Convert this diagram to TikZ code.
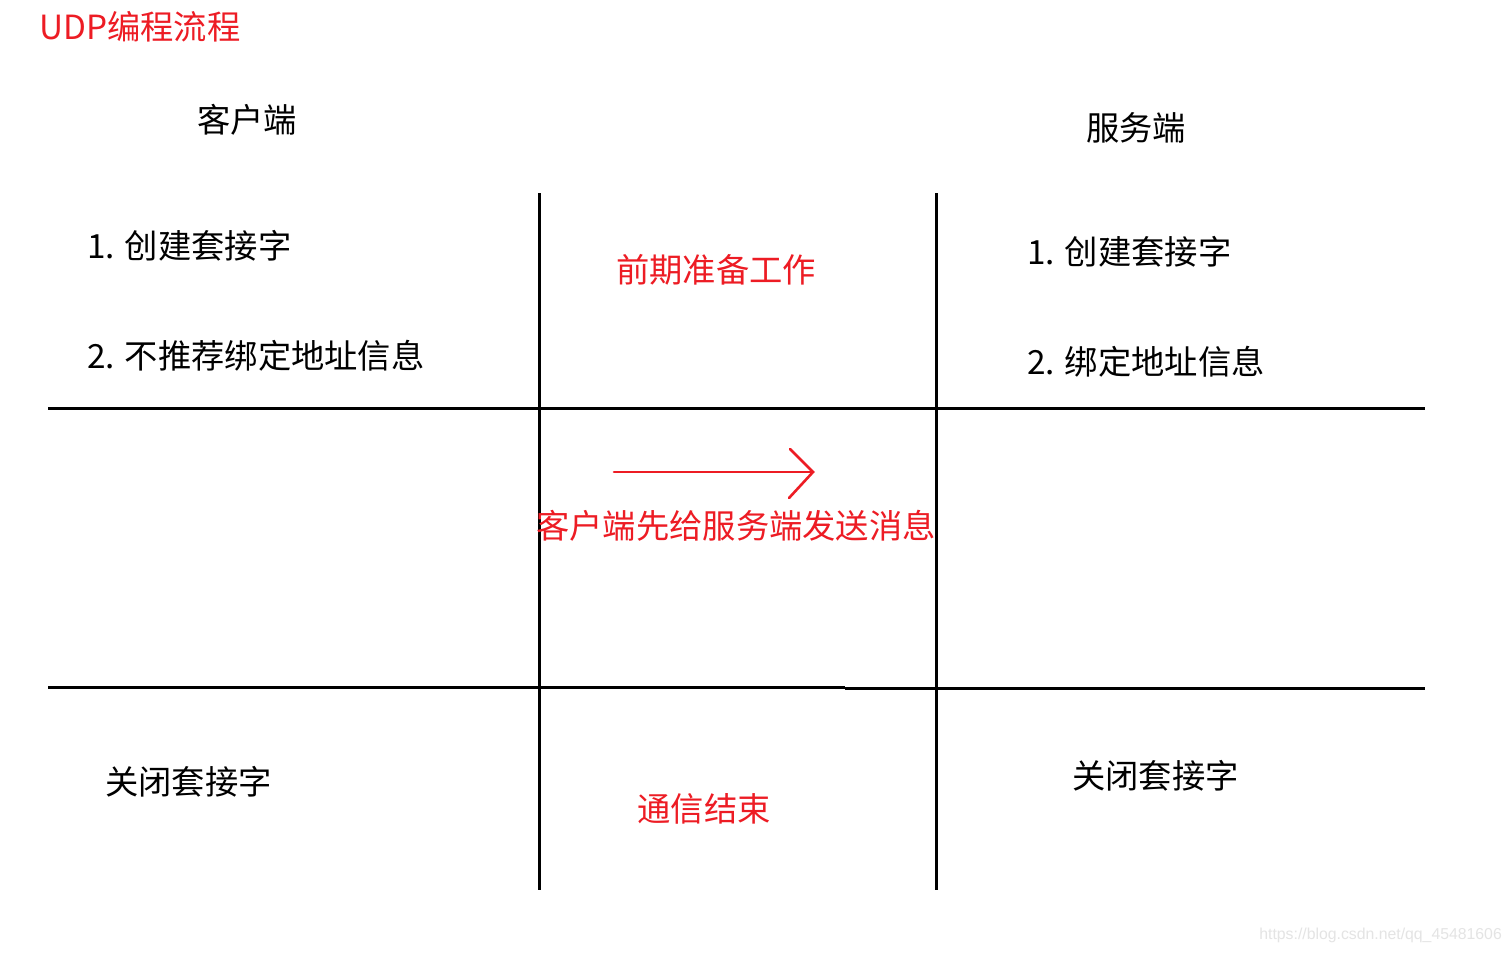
\documentclass[tikz,border=0pt]{standalone}
\usepackage{fontspec}
\setmainfont{Noto Sans CJK SC}
\newfontfamily\wmfont{Liberation Sans}
\definecolor{pred}{RGB}{237,28,36}
\definecolor{wm}{RGB}{228,228,228}
\tikzset{
  txt/.style={inner sep=0pt, font=\fontsize{33.3}{37}\selectfont},
  rtxt/.style={txt, text=pred},
  grid/.style={line width=3pt, black},
  redline/.style={line width=2.6pt, pred, line cap=round}
}
\begin{document}
\begin{tikzpicture}[x=1pt,y=-1pt]
\useasboundingbox[fill=white] (0,0) rectangle (1511,953);
% title
\node[rtxt, anchor=west] (title) at (39,27) {UDP编程流程};
% headers
\node[txt] (client) at (247,120) {客户端};
\node[txt] (server) at (1136,128) {服务端};
% grid lines
\draw[grid] (539,193) -- (539,890);
\draw[grid] (936,193) -- (936,890);
\draw[grid] (48,408) -- (1425,408);
\draw[grid] (48,687) -- (845,687);
\draw[grid] (845,688) -- (1425,688);
% row 1
\node[txt, anchor=west] (c1) at (87,246) {1. 创建套接字};
\node[txt, anchor=west] (c2) at (87,356) {2. 不推荐绑定地址信息};
\node[rtxt] (prep) at (716,270) {前期准备工作};
\node[txt, anchor=west] (s1) at (1027,252) {1. 创建套接字};
\node[txt, anchor=west] (s2) at (1027,362) {2. 绑定地址信息};
% row 2
\coordinate (a0) at (614,472);
\coordinate (a1) at (813,472);
\draw[redline] (a0) -- (a1);
\draw[redline] (790,449) -- (a1) -- (789,498);
\node[rtxt] (send) at (736,526) {客户端先给服务端发送消息};
% row 3
\node[txt, anchor=west] (cclose) at (105,782) {关闭套接字};
\node[rtxt] (end) at (704,809) {通信结束};
\node[txt, anchor=west] (sclose) at (1072,776) {关闭套接字};
% watermark
\node[inner sep=0pt, anchor=east, text=wm, font=\wmfont\fontsize{15.8}{19}\selectfont] (wmk) at (1502,935) {https://blog.csdn.net/qq\_45481606};
\end{tikzpicture}
\end{document}
